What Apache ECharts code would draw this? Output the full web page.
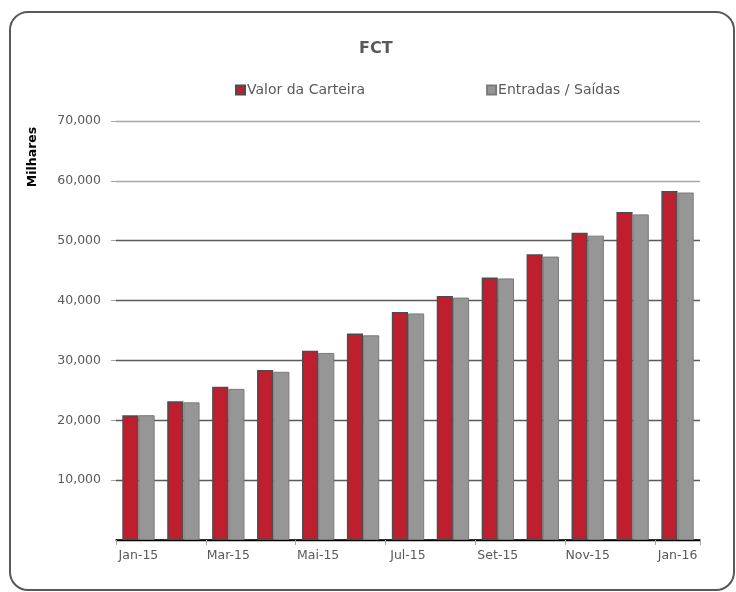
<!DOCTYPE html>
<html>
<head>
<meta charset="utf-8">
<script src="https://cdn.jsdelivr.net/npm/echarts@6/dist/echarts.min.js"></script>
<style>
  html, body { margin: 0; padding: 0; background: #fff; }
  #chart { width: 736px; height: 592px; }
</style>
</head>
<body>
<div id="chart"></div>
<script>
// chart data
var months = ['Jan-15', 'Fev-15', 'Mar-15', 'Abr-15', 'Mai-15', 'Jun-15', 'Jul-15',
              'Ago-15', 'Set-15', 'Out-15', 'Nov-15', 'Dez-15', 'Jan-16'];
var valorCarteira = [20850, 23200, 25600, 28400, 31600, 34500, 38100,
                     40750, 43850, 47750, 51350, 54800, 58300];
var entradasSaidas = [20850, 23000, 25250, 28100, 31250, 34200, 37850,
                      40500, 43700, 47350, 50850, 54400, 58050];
var seriesNames = ['Valor da Carteira', 'Entradas / Saídas'];
// split line colours from 0 up to 70,000
var gridColors = ['#000', '#5a5a5a', '#5a5a5a', '#5a5a5a', '#5a5a5a', '#5a5a5a', '#a6a6a6', '#a6a6a6'];

var font = 'DejaVu Sans';
var chart = echarts.init(document.getElementById('chart'));

chart.setOption({
    animation: false,
    backgroundColor: '#fff',
    title: {
        text: 'FCT',
        left: 354,
        top: 36,
        textStyle: { fontFamily: font, fontSize: 16, fontWeight: 'bold', color: '#595959' }
    },
    legend: {
        left: 230,
        top: 78,
        itemGap: 121,
        itemWidth: 9,
        itemHeight: 9,
        icon: 'rect',
        textStyle: { fontFamily: font, fontSize: 14, color: '#595959', padding: [0, 0, 0, -3] },
        data: seriesNames
    },
    grid: { left: 116, right: 36, top: 121, bottom: 52 },
    xAxis: {
        type: 'category',
        data: months,
        axisLine: { lineStyle: { color: '#000', width: 1.5 } },
        axisTick: { show: true, length: 5, lineStyle: { color: '#a6a6a6' } },
        axisLabel: { interval: 1, fontFamily: font, fontSize: 12.5, color: '#595959', margin: 9 }
    },
    yAxis: {
        type: 'value',
        min: 0,
        max: 70000,
        interval: 10000,
        axisLine: { show: false },
        axisTick: { show: true, length: 5, lineStyle: { color: '#a6a6a6' } },
        splitLine: { lineStyle: { color: gridColors, width: 1.3 } },
        axisLabel: {
            showMinLabel: false,
            fontFamily: font, fontSize: 12.5, color: '#595959', margin: 15,
            formatter: function (v) { return v.toLocaleString('en-US'); }
        }
    },
    graphic: [
        {
            type: 'rect',
            shape: { x: 10, y: 12, width: 724, height: 578, r: 18 },
            style: { fill: 'none', stroke: '#595959', lineWidth: 2 },
            z: -1
        },
        {
            type: 'text',
            x: 33,
            y: 157,
            rotation: Math.PI / 2,
            style: {
                text: 'Milhares',
                fontFamily: font, fontSize: 12.5, fontWeight: 'bold', fill: '#000',
                align: 'center', verticalAlign: 'middle'
            }
        }
    ],
    series: [
        {
            name: seriesNames[0],
            type: 'bar',
            data: valorCarteira,
            barGap: '0%',
            barCategoryGap: '28%',
            itemStyle: { color: '#be1e2d', borderColor: '#4d4d4d', borderWidth: 1.5 }
        },
        {
            name: seriesNames[1],
            type: 'bar',
            data: entradasSaidas,
            itemStyle: { color: '#969696', borderColor: '#7a7a7a', borderWidth: 1 }
        }
    ]
});
</script>
</body>
</html>
